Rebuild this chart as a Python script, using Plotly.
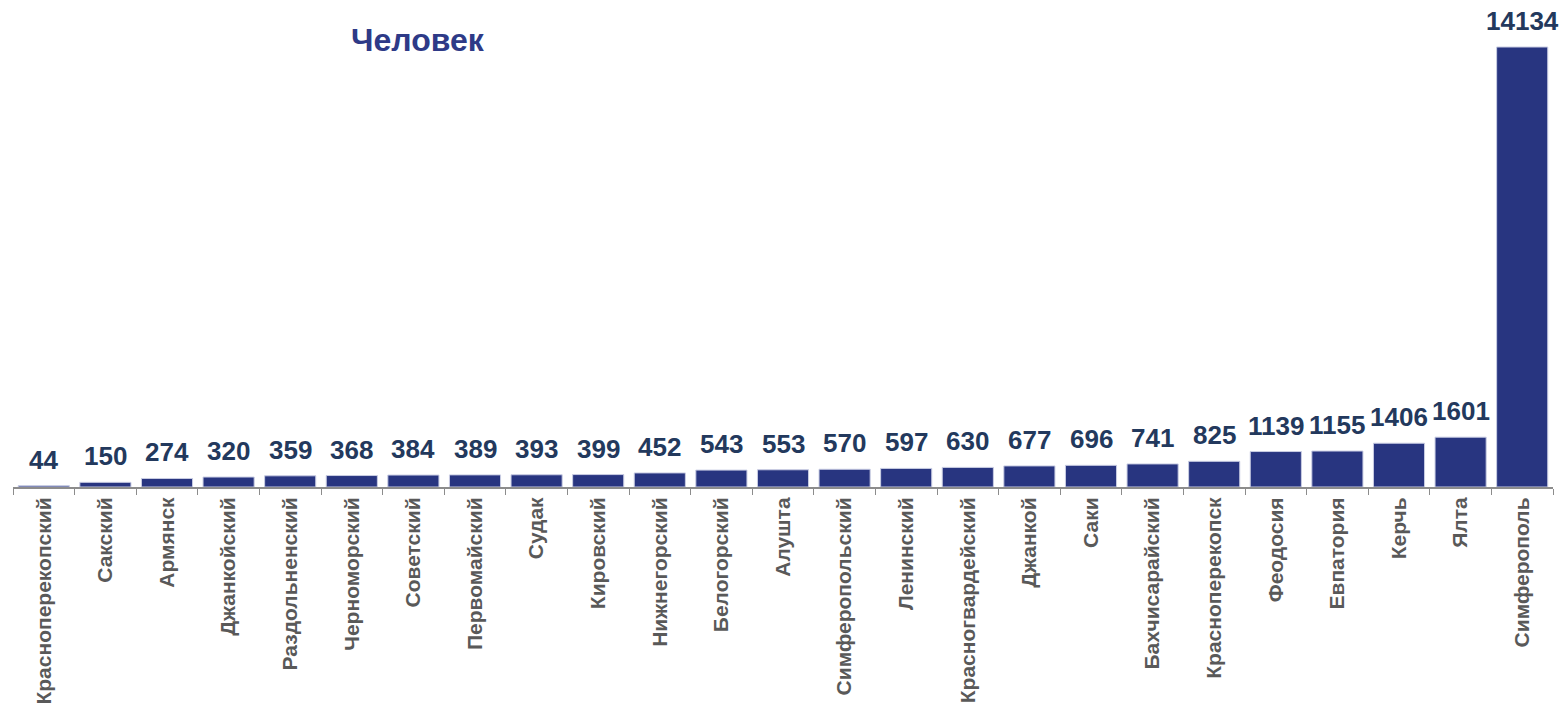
import plotly.graph_objects as go

categories = ["Красноперекопский", "Сакский", "Армянск", "Джанкойский", "Раздольненский",
              "Черноморский", "Советский", "Первомайский", "Судак", "Кировский",
              "Нижнегорский", "Белогорский", "Алушта", "Симферопольский", "Ленинский",
              "Красногвардейский", "Джанкой", "Саки", "Бахчисарайский", "Красноперекопск",
              "Феодосия", "Евпатория", "Керчь", "Ялта", "Симферополь"]
values = [44, 150, 274, 320, 359, 368, 384, 389, 393, 399, 452, 543, 553, 570, 597,
          630, 677, 696, 741, 825, 1139, 1155, 1406, 1601, 14134]
title_text = "Человек"

fig = go.Figure(go.Bar(
    x=categories, y=values,
    marker=dict(color="#283580", line=dict(color="#c9cde3", width=1)),
    hoverinfo="x+y",
))
label_annotations = [dict(x=c, y=v, xref="x", yref="y", text="<b>" + str(v) + "</b>",
                          showarrow=False, yanchor="bottom", xanchor="center", yshift=9,
                          font=dict(family="Liberation Sans, Arial", size=26, color="#23395d"))
                     for c, v in zip(categories, values)]
fig.update_layout(
    width=1559, height=707,
    margin=dict(l=13, r=6, t=30, b=220, autoexpand=False),
    plot_bgcolor="white", paper_bgcolor="white",
    bargap=0.17, showlegend=False,
    font=dict(family="Liberation Sans, Arial"),
    annotations=label_annotations + [dict(text="<b>" + title_text + "</b>", xref="paper", yref="paper",
                      x=(418 - 13) / 1540, y=(487 - 40) / 457,
                      xanchor="center", yanchor="middle",
                      showarrow=False, font=dict(size=32, color="#2E3A87"))],
)
fig.update_xaxes(type="category", range=[-0.5, len(categories) - 0.5],
                 tickangle=-90, tickson="boundaries", ticks="outside",
                 ticklen=6, tickcolor="#8c8c8c", showline=True, linecolor="#8c8c8c", linewidth=2,
                 tickfont=dict(size=21, color="#595959", family="Liberation Sans, Arial"),
                 ticktext=["<b>" + c + "</b>" for c in categories], tickvals=categories,
                 automargin=False, showgrid=False)
fig.update_yaxes(range=[0, 14680], visible=False, showgrid=False, automargin=False)
fig.write_html("out.html", config={"displayModeBar": False},
               post_script="document.body.style.margin='0';document.body.style.overflow='hidden';")
